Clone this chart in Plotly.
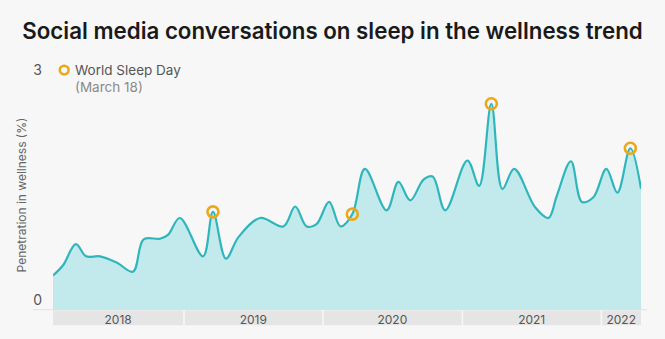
import plotly.graph_objects as go
from datetime import date, timedelta

# ---- data ----
dates = ["2018-01-22", "2018-02-17", "2018-03-23", "2018-04-19", "2018-05-25", "2018-07-08",
         "2018-08-20", "2018-09-17", "2018-10-30", "2018-11-20", "2018-12-21", "2019-02-20",
         "2019-03-18", "2019-04-21", "2019-05-24", "2019-07-20", "2019-09-19", "2019-10-20",
         "2019-11-19", "2019-12-15", "2020-01-17", "2020-02-16", "2020-03-18", "2020-04-20",
         "2020-06-16", "2020-07-17", "2020-08-17", "2020-09-21", "2020-10-15", "2020-11-17",
         "2021-01-14", "2021-02-14", "2021-03-18", "2021-04-16", "2021-05-17", "2021-07-11",
         "2021-08-15", "2021-09-06", "2021-10-13", "2021-11-11", "2021-12-11", "2022-01-14",
         "2022-02-12", "2022-03-18", "2022-04-15"]
values = [0.45, 0.58, 0.86, 0.70, 0.70, 0.62,
          0.50, 0.92, 0.93, 0.98, 1.20, 0.70,
          1.28, 0.67, 0.95, 1.20, 1.09, 1.35,
          1.09, 1.12, 1.41, 1.09, 1.25, 1.84,
          1.30, 1.67, 1.43, 1.70, 1.74, 1.30,
          1.95, 1.62, 2.69, 1.58, 1.84, 1.34,
          1.20, 1.49, 1.94, 1.41, 1.47, 1.84,
          1.53, 2.11, 1.58]
sleep_day_dates = ["2019-03-18", "2020-03-18", "2021-03-18", "2022-03-18"]
sleep_day_values = [1.28, 1.25, 2.69, 2.11]
years = ["2018", "2019", "2020", "2021", "2022"]
year_starts = ["2018-01-22", "2019-01-01", "2020-01-01", "2021-01-01", "2022-01-01"]
year_ends = ["2019-01-01", "2020-01-01", "2021-01-01", "2022-01-01", "2022-04-15"]
year_mids = ["2018-07-12", "2019-07-02", "2020-07-01", "2021-07-02", "2022-02-22"]
y_ticks = [0, 3]

TEAL = "#2fb6bc"
FILL = "#c2eaec"
ORANGE = "#eda81a"
BG = "#f7f7f7"
FONT = "Inter"

L, R, T, B = 53, 24, 80, 27
W, H = 665, 339
pw, ph = W - L - R, H - T - B

def px_x(px):
    return (px - L) / pw

def px_y(py):
    return (H - B - py) / ph

fig = go.Figure()
fig.add_trace(go.Scatter(
    x=dates, y=values, mode="lines",
    line=dict(color=TEAL, width=2.2, shape="spline", smoothing=1.0),
    fill="tozeroy", fillcolor=FILL, hoverinfo="skip", showlegend=False))
fig.add_trace(go.Scatter(
    x=sleep_day_dates, y=sleep_day_values, mode="markers",
    marker=dict(symbol="circle-open", size=11, color=ORANGE, line=dict(width=2.6, color=ORANGE)),
    showlegend=False, cliponaxis=False))

shapes = []
for i, (s, e) in enumerate(zip(year_starts, year_ends)):
    ds = date.fromisoformat(s)
    de = date.fromisoformat(e)
    if i > 0:
        ds = ds + timedelta(days=2)
    if i < len(years) - 1:
        de = de - timedelta(days=2)
    shapes.append(dict(type="rect", xref="x", yref="paper", x0=ds.isoformat(), x1=de.isoformat(),
                       y0=px_y(312.5), y1=px_y(327.5), fillcolor="#e5e5e5", line=dict(width=0),
                       layer="below"))
# faint zero line extension
shapes.append(dict(type="line", xref="paper", yref="paper", x0=px_x(33), x1=px_x(647),
                   y0=px_y(311.7), y1=px_y(311.7), line=dict(color="#e2e2e2", width=1), layer="below"))
# legend marker
shapes.append(dict(type="circle", xref="paper", yref="paper", x0=px_x(59.8), x1=px_x(68.6),
                   y0=px_y(74.4), y1=px_y(65.6), line=dict(color=ORANGE, width=2.6),
                   fillcolor="rgba(0,0,0,0)"))

annotations = [
    dict(text="World Sleep Day", xref="paper", yref="paper", x=px_x(73), y=px_y(70),
         xanchor="left", yanchor="middle", showarrow=False,
         font=dict(family=FONT, size=13.5, color="#555555")),
    dict(text="(March 18)", xref="paper", yref="paper", x=px_x(73), y=px_y(87),
         xanchor="left", yanchor="middle", showarrow=False,
         font=dict(family=FONT, size=13.5, color="#8a8a8a")),
]

fig.update_layout(
    width=W, height=H,
    margin=dict(l=L, r=R, t=T, b=B),
    paper_bgcolor=BG, plot_bgcolor=BG,
    title=dict(text="Social media conversations on sleep in the wellness trend",
               x=0.5, xref="container", xanchor="center", y=1 - 31 / H, yanchor="middle",
               font=dict(family=FONT, size=22.3, color="#1a1a1a", weight=600)),
    shapes=shapes, annotations=annotations,
    xaxis=dict(type="date", range=["2018-01-22", "2022-04-15"], showgrid=False, zeroline=False,
               showline=False, ticks="", tickmode="array", tickvals=year_mids, ticktext=years,
               tickfont=dict(family=FONT, size=12, color="#555555"), ticklabelstandoff=1),
    yaxis=dict(range=[0, 3], tickvals=y_ticks, ticktext=["0", "3"], showgrid=False, zeroline=False,
               showline=False, ticks="", ticklabelposition="outside top", ticklabelstandoff=10,
               tickfont=dict(family=FONT, size=14, color="#555555"),
               title=dict(text="Penetration in wellness (%)", standoff=3,
                          font=dict(family=FONT, size=12, color="#666666"))),
    showlegend=False,
)

fig.write_html("out.html")
